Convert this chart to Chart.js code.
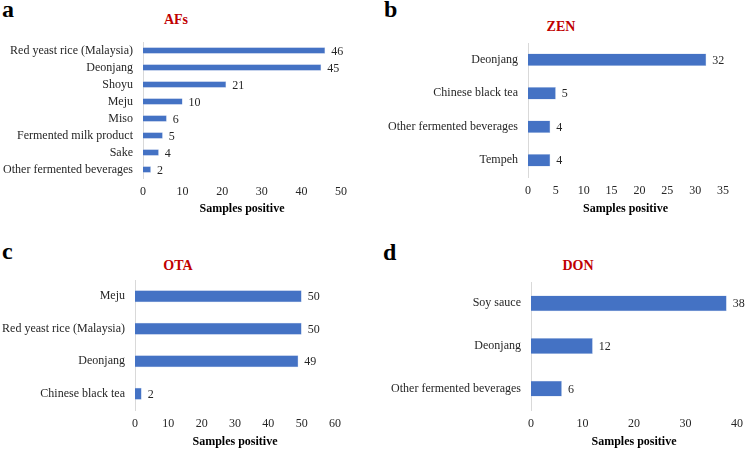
<!DOCTYPE html>
<html>
<head>
<meta charset="utf-8">
<script src="https://cdn.jsdelivr.net/npm/chart.js@4/dist/chart.umd.min.js"></script>
<style>
  body { margin: 0; background: #fff; }
  #page { position: relative; width: 750px; height: 454px; overflow: hidden; font-family: "Liberation Serif", "Times New Roman", serif; }
  .box { position: absolute; }
  .letter { position: absolute; font-size: 24px; line-height: 24px; font-weight: bold; color: #000; }
  .ttl { position: absolute; width: 100px; text-align: center; font-size: 14px; line-height: 14px; font-weight: bold; color: #c00000; }
</style>
</head>
<body>
<div id="page">
  <div class="letter" style="left:2px;top:-3px">a</div>
  <div class="letter" style="left:384px;top:-3px">b</div>
  <div class="letter" style="left:2px;top:239px">c</div>
  <div class="letter" style="left:383px;top:240px">d</div>
  <div class="ttl" style="left:126px;top:13px">AFs</div>
  <div class="ttl" style="left:511px;top:20px">ZEN</div>
  <div class="ttl" style="left:128px;top:259px">OTA</div>
  <div class="ttl" style="left:528px;top:259px">DON</div>
  <div class="box" style="left:0;top:0;width:375px;height:227px"><canvas id="chartA"></canvas></div>
  <div class="box" style="left:375px;top:0;width:375px;height:227px"><canvas id="chartB"></canvas></div>
  <div class="box" style="left:0;top:227px;width:375px;height:227px"><canvas id="chartC"></canvas></div>
  <div class="box" style="left:375px;top:227px;width:375px;height:227px"><canvas id="chartD"></canvas></div>
</div>
<script>
// data
const afsLabels = ['Red yeast rice (Malaysia)', 'Deonjang', 'Shoyu', 'Meju', 'Miso', 'Fermented milk product', 'Sake', 'Other fermented beverages'];
const afsValues = [46, 45, 21, 10, 6, 5, 4, 2];

const zenLabels = ['Deonjang', 'Chinese black tea', 'Other fermented beverages', 'Tempeh'];
const zenValues = [32, 5, 4, 4];

const otaLabels = ['Meju', 'Red yeast rice (Malaysia)', 'Deonjang', 'Chinese black tea'];
const otaValues = [50, 50, 49, 2];

const donLabels = ['Soy sauce', 'Deonjang', 'Other fermented beverages'];
const donValues = [38, 12, 6];

const xMax = [50, 35, 60, 40];
const xStep = [10, 5, 10, 10];
const xTitle = 'Samples positive';

const font = "'Liberation Serif', 'Times New Roman', serif";
const barColor = '#4472C4';

// value labels at the end of each bar
const valueLabels = {
    id: 'valueLabels',
    afterDatasetsDraw(chart) {
        const ctx = chart.ctx;
        const meta = chart.getDatasetMeta(0);
        const values = chart.data.datasets[0].data;
        ctx.save();
        ctx.font = '12px ' + font;
        ctx.fillStyle = '#262626';
        ctx.textAlign = 'left';
        ctx.textBaseline = 'middle';
        meta.data.forEach((bar, i) => {
            ctx.fillText(values[i], bar.x + 6, bar.y + 1);
        });
        ctx.restore();
    }
};

// layout per panel: y-axis position, right end of x scale, plot top / bottom
function makeChart(id, labels, values, max, step, lay) {
    return new Chart(document.getElementById(id), {
        type: 'bar',
        data: {
            labels: labels,
            datasets: [{
                data: values,
                backgroundColor: barColor,
                borderColor: '#b4c7e7',
                borderWidth: 0.5,
                barPercentage: 0.37,
                categoryPercentage: 1
            }]
        },
        options: {
            indexAxis: 'y',
            responsive: true,
            maintainAspectRatio: false,
            animation: false,
            layout: { padding: { left: 0, right: 375 - lay.right, top: lay.top, bottom: lay.bottomPad } },
            plugins: { legend: { display: false }, tooltip: { enabled: false } },
            scales: {
                y: {
                    grid: { display: false, drawTicks: false },
                    border: { display: true, color: '#d9d9d9', width: 1 },
                    ticks: { autoSkip: false, color: '#262626', padding: 10, font: { family: font, size: 12 } },
                    afterFit(scale) { scale.width = lay.axisX; }
                },
                x: {
                    min: 0,
                    max: max,
                    grid: { display: false, drawTicks: false },
                    border: { display: false },
                    ticks: { stepSize: step, color: '#262626', padding: 7, font: { family: font, size: 12 } },
                    title: { display: true, text: xTitle, color: '#000', padding: { top: 2, bottom: 0 }, font: { family: font, size: 12, weight: 'bold' } },
                    afterFit(scale) { scale.height = lay.xHeight; }
                }
            }
        },
        plugins: [valueLabels]
    });
}

window.onload = function () {
    makeChart('chartA', afsLabels, afsValues, xMax[0], xStep[0], { axisX: 143, right: 341, top: 42, xHeight: 38, bottomPad: 11 });
    makeChart('chartB', zenLabels, zenValues, xMax[1], xStep[1], { axisX: 153, right: 348, top: 43, xHeight: 39, bottomPad: 11 });
    makeChart('chartC', otaLabels, otaValues, xMax[2], xStep[2], { axisX: 135, right: 335, top: 53, xHeight: 39, bottomPad: 5 });
    makeChart('chartD', donLabels, donValues, xMax[3], xStep[3], { axisX: 156, right: 368, top: 55, xHeight: 39, bottomPad: 5 });
};
</script>
</body>
</html>
